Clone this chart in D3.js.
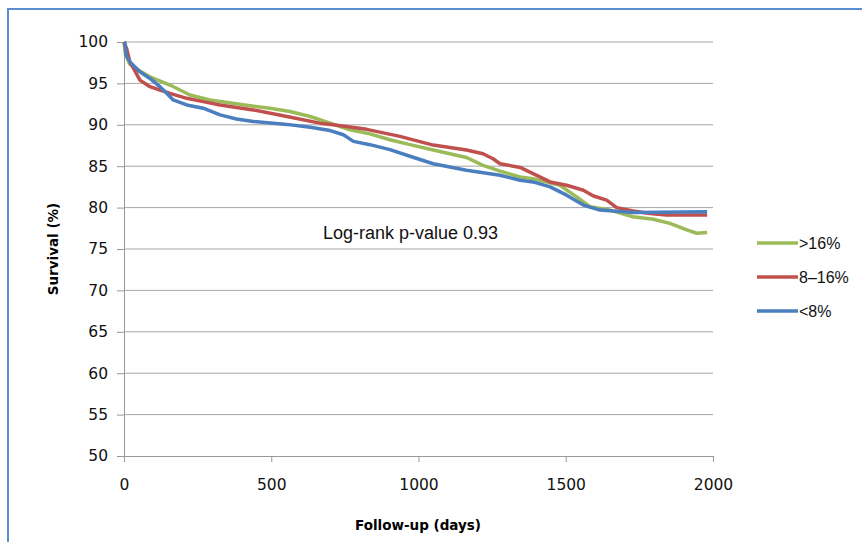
<!DOCTYPE html>
<html>
<head>
<meta charset="utf-8">
<script src="https://cdn.jsdelivr.net/npm/d3@7"></script>
<style>
  body { margin: 0; background: #fff; }
  svg { display: block; }
</style>
</head>
<body>
<svg id="chart" width="862" height="542"></svg>
<script>
// survival curves (days, %)
const greenDays = [0, 5, 20, 54, 88, 156, 224, 292, 428, 496, 564, 632, 700, 767, 835, 903, 971, 1050, 1163, 1219, 1277, 1345, 1389, 1480, 1537, 1582, 1650, 1728, 1797, 1854, 1911, 1945, 1980];
const greenSurv = [100, 98.5, 97.3, 96.5, 95.8, 94.8, 93.6, 93.0, 92.3, 92.0, 91.6, 91.0, 90.2, 89.4, 88.9, 88.2, 87.6, 86.95, 86.05, 85.1, 84.4, 83.7, 83.5, 82.7, 81.3, 80.1, 79.7, 78.9, 78.6, 78.1, 77.3, 76.9, 77.0];

const redDays = [0, 9, 20, 31, 54, 88, 122, 156, 213, 269, 326, 439, 553, 665, 710, 824, 937, 1050, 1163, 1219, 1253, 1277, 1345, 1389, 1447, 1503, 1560, 1594, 1639, 1673, 1729, 1786, 1843, 1980];
const redSurv = [100, 99.2, 97.6, 96.9, 95.4, 94.6, 94.2, 93.8, 93.2, 92.8, 92.4, 91.8, 91.0, 90.2, 90.0, 89.45, 88.6, 87.55, 86.95, 86.5, 85.9, 85.3, 84.85, 84.1, 83.1, 82.7, 82.1, 81.4, 80.9, 80.0, 79.6, 79.3, 79.1, 79.1];

const blueDays = [0, 3, 7, 20, 54, 88, 122, 145, 167, 213, 269, 326, 382, 439, 553, 632, 700, 745, 779, 835, 903, 971, 1050, 1163, 1277, 1345, 1389, 1447, 1503, 1560, 1616, 1729, 1980];
const blueSurv = [100, 99.9, 98.4, 97.6, 96.4, 95.6, 94.6, 93.8, 93.0, 92.4, 92.0, 91.2, 90.7, 90.4, 90.05, 89.7, 89.3, 88.8, 88.0, 87.6, 87.0, 86.2, 85.3, 84.5, 83.9, 83.3, 83.1, 82.5, 81.5, 80.3, 79.7, 79.4, 79.5];

const seriesNames = [">16%", "8\u201316%", "<8%"];
const seriesColors = ["#9BBB59", "#C0504D", "#4A7EBF"];
const xTicks = [0, 500, 1000, 1500, 2000];
const yTicks = [50, 55, 60, 65, 70, 75, 80, 85, 90, 95, 100];

const series = [
  {name: seriesNames[0], color: seriesColors[0], days: greenDays, surv: greenSurv},
  {name: seriesNames[1], color: seriesColors[1], days: redDays, surv: redSurv},
  {name: seriesNames[2], color: seriesColors[2], days: blueDays, surv: blueSurv}
];

const svg = d3.select("#chart");

// outer frame
svg.append("rect")
  .attr("x", 8).attr("y", 9)
  .attr("width", 900).attr("height", 600)
  .attr("fill", "none")
  .attr("stroke", "#5B8ED0")
  .attr("stroke-width", 2);

const x = d3.scaleLinear().domain([0, 2000]).range([124, 713]);
const y = d3.scaleLinear().domain([50, 100]).range([456, 42]);

// gridlines
svg.append("g")
  .selectAll("line")
  .data(yTicks.filter(d => d > 50))
  .join("line")
  .attr("x1", x(0)).attr("x2", x(2000))
  .attr("y1", d => y(d)).attr("y2", d => y(d))
  .attr("stroke", "#A6A6A6")
  .attr("stroke-width", 1);

// y axis
const yAxis = svg.append("g")
  .attr("transform", `translate(${x(0)},0)`)
  .call(d3.axisLeft(y).tickValues(yTicks).tickSize(7).tickPadding(9));
yAxis.select(".domain").attr("stroke", "#999");
yAxis.selectAll(".tick line").attr("stroke", "#999");
yAxis.selectAll("text")
  .attr("font-family", "DejaVu Sans")
  .attr("font-size", 15.5)
  .attr("fill", "#111");

// x axis
const xAxis = svg.append("g")
  .attr("transform", `translate(0,${y(50)})`)
  .call(d3.axisBottom(x).tickValues(xTicks).tickFormat(d3.format("d")).tickSize(6).tickPadding(17));
xAxis.select(".domain").attr("stroke", "#999");
xAxis.selectAll(".tick line").attr("stroke", "#999");
xAxis.selectAll("text")
  .attr("font-family", "DejaVu Sans")
  .attr("font-size", 15.5)
  .attr("fill", "#111");

// curves
const line = d3.line()
  .x(d => x(d[0]))
  .y(d => y(d[1]));

series.forEach(s => {
  const pts = s.days.map((d, i) => [d, s.surv[i]]);
  svg.append("path")
    .datum(pts)
    .attr("d", line)
    .attr("fill", "none")
    .attr("stroke", s.color)
    .attr("stroke-width", 3.5)
    .attr("stroke-linejoin", "round");
});

// axis titles
svg.append("text")
  .attr("x", 418).attr("y", 530)
  .attr("text-anchor", "middle")
  .attr("font-family", "DejaVu Sans")
  .attr("font-weight", "bold")
  .attr("font-size", 13.5)
  .text("Follow-up (days)");

svg.append("text")
  .attr("transform", "translate(58,249) rotate(-90)")
  .attr("text-anchor", "middle")
  .attr("font-family", "DejaVu Sans")
  .attr("font-weight", "bold")
  .attr("font-size", 13.5)
  .text("Survival (%)");

// annotation
svg.append("text")
  .attr("x", 323).attr("y", 239)
  .attr("font-family", "Liberation Sans")
  .attr("font-size", 18)
  .attr("fill", "#111")
  .text("Log-rank p-value 0.93");

// legend
const legend = svg.append("g")
  .selectAll("g")
  .data(series)
  .join("g")
  .attr("transform", (d, i) => `translate(757,${243 + i * 34})`);
legend.append("line")
  .attr("x1", 0).attr("x2", 41)
  .attr("stroke", d => d.color)
  .attr("stroke-width", 3.5);
legend.append("text")
  .attr("x", 42).attr("y", 6)
  .attr("font-family", "Liberation Sans")
  .attr("font-size", 16)
  .attr("fill", "#111")
  .text(d => d.name);
</script>
</body>
</html>
